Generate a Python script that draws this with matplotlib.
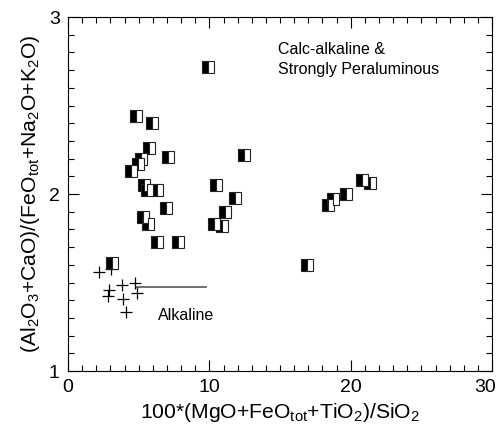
import numpy as np
import matplotlib
matplotlib.use('Agg')
import matplotlib.pyplot as plt
from matplotlib.ticker import MultipleLocator

plt.rcParams['font.family'] = ['Liberation Sans', 'DejaVu Sans']
plt.rcParams['mathtext.fontset'] = 'custom'
plt.rcParams['mathtext.rm'] = 'Liberation Sans'
plt.rcParams['mathtext.it'] = 'Liberation Sans:italic'
plt.rcParams['mathtext.bf'] = 'Liberation Sans:bold'

# half-filled squares (calc-alkaline / peraluminous samples)
sq_x = [9.93, 4.79, 5.92, 5.76, 7.06, 12.48, 5.14, 4.98, 4.48, 5.40, 5.55,
        6.28, 10.45, 11.82, 6.94, 11.11, 5.33, 5.69, 10.36, 10.92, 6.28,
        7.81, 3.09, 16.94, 18.42, 18.73, 19.67, 20.78, 21.37]
sq_y = [2.72, 2.44, 2.40, 2.26, 2.21, 2.22, 2.20, 2.17, 2.13, 2.05, 2.02,
        2.02, 2.05, 1.98, 1.92, 1.90, 1.87, 1.83, 1.83, 1.82, 1.73,
        1.73, 1.61, 1.60, 1.94, 1.97, 2.00, 2.08, 2.06]

# crosses (alkaline samples)
cr_x = [2.19, 3.02, 2.90, 2.85, 3.85, 4.74, 4.86, 3.90, 4.08]
cr_y = [1.561, 1.575, 1.458, 1.425, 1.486, 1.499, 1.439, 1.405, 1.335]

# divider line
line_x = [4.81, 9.75]
line_y = [1.476, 1.476]

xticks = [0, 10, 20, 30]
xtick_labels = ['0', '10', '20', '30']

fig = plt.figure(figsize=(4.97, 4.37), dpi=100)
ax = fig.add_axes([0.137, 0.151, 0.853, 0.810])

ax.plot(line_x, line_y, color='#666666', lw=1.3, zorder=1)
ax.plot(cr_x, cr_y, ls='none', marker='+', ms=8, mew=0.9, color='black', zorder=2)
ax.plot(sq_x, sq_y, ls='none', marker='s', ms=8.5, fillstyle='left',
        markerfacecolor='black', markerfacecoloralt='white',
        markeredgecolor='#222222', mew=0.8, zorder=3)

ax.text(14.88, 2.817, 'Calc-alkaline &', fontsize=11.5, va='center')
ax.text(14.88, 2.706, 'Strongly Peraluminous', fontsize=11.5, va='center')
ax.text(6.35, 1.316, 'Alkaline', fontsize=11.5, va='center')

ax.set_xlim(0, 30)
ax.set_ylim(1, 3)
# last label drawn by hand so it can sit flush with the figure edge
ax.set_xticks(xticks, xtick_labels[:-1] + [''])
ax.annotate(xtick_labels[-1], xy=(xticks[-1], 0), xycoords=('data', 'axes fraction'),
            xytext=(2.5, -6), textcoords='offset points', ha='right', va='top', fontsize=14)
ax.xaxis.set_minor_locator(MultipleLocator(1))
ax.yaxis.set_major_locator(MultipleLocator(1))
ax.yaxis.set_minor_locator(MultipleLocator(0.1))
ax.tick_params(which='both', direction='in', top=True, right=True, labelsize=14)
ax.tick_params(which='major', length=8, width=0.8)
ax.tick_params(which='minor', length=4.5, width=0.8)
ax.tick_params(axis='x', pad=6)
ax.tick_params(axis='y', pad=6)

ax.set_xlabel(r'100*(MgO+FeO$_{\mathrm{tot}}$+TiO$_2$)/SiO$_2$', fontsize=15.2, labelpad=3)
ax.set_ylabel(r'(Al$_2$O$_3$+CaO)/(FeO$_{\mathrm{tot}}$+Na$_2$O+K$_2$O)', fontsize=15.2, labelpad=5)

fig.savefig('out.png', dpi=100)
